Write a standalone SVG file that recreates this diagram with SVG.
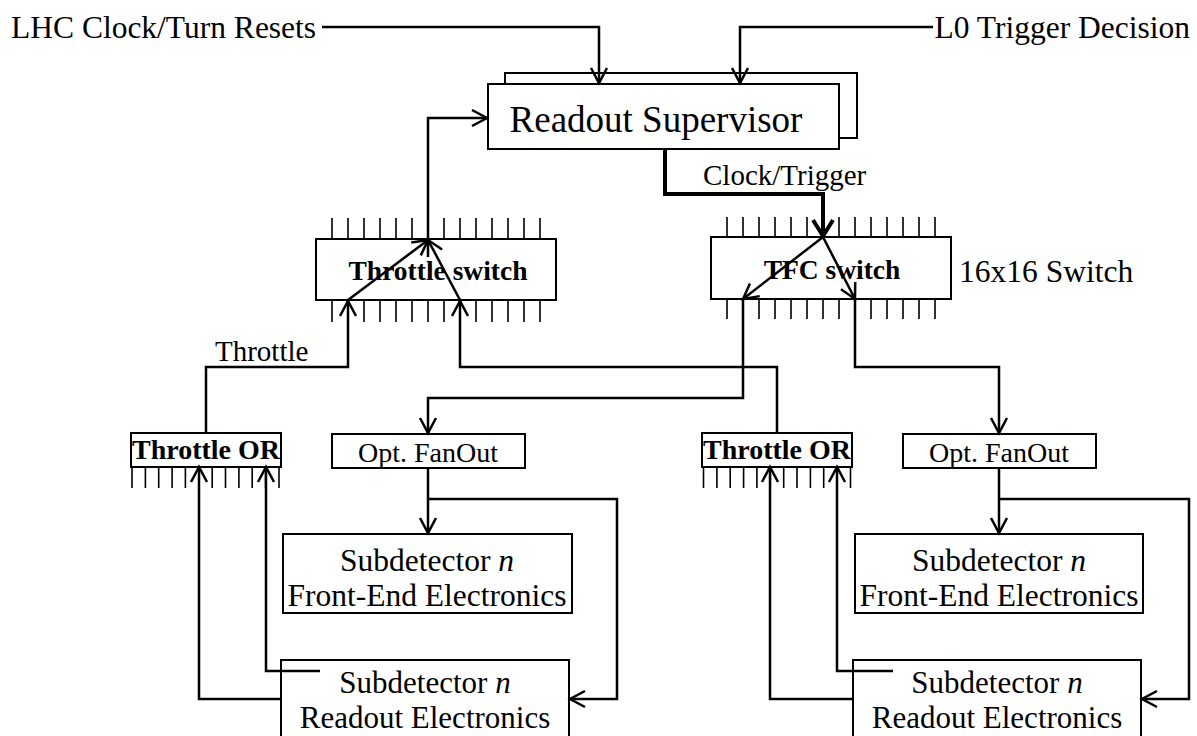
<svg xmlns="http://www.w3.org/2000/svg" width="1197" height="736" viewBox="0 0 1197 736">
<style>
text{font-family:"Liberation Serif","Times New Roman",serif;fill:#000}
.box{fill:#fff;stroke:#000;stroke-width:2}
.c{fill:none;stroke:#000;stroke-width:2.5;stroke-linejoin:miter}
.thick{fill:none;stroke:#000;stroke-width:4}
.tick{stroke:#000;stroke-width:1.6}
.b{font-weight:bold}
</style>
<defs>
<marker id="a" markerUnits="userSpaceOnUse" markerWidth="30" markerHeight="30" refX="0" refY="0" viewBox="-20 -15 30 30" orient="auto" overflow="visible">
<path d="M-15,-8 L0,0 L-15,8" fill="none" stroke="#000" stroke-width="2.5"/>
</marker>
<marker id="at" markerUnits="userSpaceOnUse" markerWidth="30" markerHeight="30" refX="0" refY="0" viewBox="-20 -15 30 30" orient="auto" overflow="visible">
<path d="M-16,-10 L0,0 L-16,10" fill="none" stroke="#000" stroke-width="4"/>
</marker>
</defs>

<g id="labels">
<text x="11" y="38" font-size="31.5">LHC Clock/Turn Resets</text>
<text x="1190" y="38" font-size="31.5" text-anchor="end">L0 Trigger Decision</text>
<text x="703" y="185" font-size="29">Clock/Trigger</text>
<text x="215" y="361" font-size="29">Throttle</text>
<text x="959" y="282" font-size="31.5">16x16 Switch</text>
</g>

<g id="readout-supervisor">
<rect class="box" x="505" y="73" width="352" height="65"/>
<rect class="box" x="488" y="84" width="351" height="65"/>
<text x="656" y="132" font-size="37" text-anchor="middle">Readout Supervisor</text>
</g>

<g id="throttle-switch">
<g class="tick">
<path d="M332,218V239M348,218V239M364,218V239M380,218V239M396,218V239M412,218V239M428,218V239M444,218V239M460,218V239M476,218V239M492,218V239M508,218V239M524,218V239M540,218V239"/>
<path d="M332,300V322M348,300V322M364,300V322M380,300V322M396,300V322M412,300V322M428,300V322M444,300V322M460,300V322M476,300V322M492,300V322M508,300V322M524,300V322M540,300V322"/>
</g>
<rect class="box" x="316" y="239" width="240" height="61"/>
<text class="b" x="438" y="280" font-size="27.5" text-anchor="middle">Throttle switch</text>
</g>

<g id="tfc-switch">
<g class="tick">
<path d="M727,217V237M743,217V237M759,217V237M775,217V237M791,217V237M807,217V237M823,217V237M839,217V237M855,217V237M871,217V237M887,217V237M903,217V237M919,217V237M935,217V237"/>
<path d="M727,299V319M743,299V319M759,299V319M775,299V319M791,299V319M807,299V319M823,299V319M839,299V319M855,299V319M871,299V319M887,299V319M903,299V319M919,299V319M935,299V319"/>
</g>
<rect class="box" x="711" y="237" width="240" height="62"/>
<text class="b" x="832" y="279" font-size="27.5" text-anchor="middle">TFC switch</text>
</g>

<g id="throttle-or-left">
<path class="tick" d="M132,467V488M145.4,467V488M158.7,467V488M172.1,467V488M185.4,467V488M198.8,467V488M212.2,467V488M225.5,467V488M238.9,467V488M252.2,467V488M265.6,467V488M279,467V488"/>
<rect class="box" x="131" y="433" width="150" height="34"/>
<text class="b" x="206" y="459" font-size="28" text-anchor="middle">Throttle OR</text>
</g>

<g id="throttle-or-right">
<path class="tick" d="M703.5,467V488M716.9,467V488M730.2,467V488M743.6,467V488M756.9,467V488M770.3,467V488M783.7,467V488M797,467V488M810.4,467V488M823.7,467V488M837.1,467V488M850.5,467V488"/>
<rect class="box" x="702" y="433" width="150" height="34"/>
<text class="b" x="777" y="459" font-size="28" text-anchor="middle">Throttle OR</text>
</g>

<g id="fanout-left">
<rect class="box" x="332" y="434" width="193" height="34"/>
<text x="428" y="462" font-size="28" text-anchor="middle">Opt. FanOut</text>
</g>
<g id="fanout-right">
<rect class="box" x="903" y="434" width="193" height="34"/>
<text x="999" y="462" font-size="28" text-anchor="middle">Opt. FanOut</text>
</g>

<g id="frontend-left">
<rect class="box" x="283" y="534" width="289" height="79"/>
<text x="427" y="571" font-size="31.5" text-anchor="middle">Subdetector <tspan font-style="italic">n</tspan></text>
<text x="427" y="606" font-size="31.5" text-anchor="middle">Front-End Electronics</text>
</g>
<g id="frontend-right">
<rect class="box" x="855" y="534" width="288" height="79"/>
<text x="999" y="571" font-size="31.5" text-anchor="middle">Subdetector <tspan font-style="italic">n</tspan></text>
<text x="999" y="606" font-size="31.5" text-anchor="middle">Front-End Electronics</text>
</g>

<g id="readout-left">
<rect class="box" x="281" y="660" width="288" height="90"/>
<text x="425" y="693" font-size="31" text-anchor="middle">Subdetector <tspan font-style="italic">n</tspan></text>
<text x="425" y="728" font-size="31" text-anchor="middle">Readout Electronics</text>
</g>
<g id="readout-right">
<rect class="box" x="853" y="660" width="288" height="90"/>
<text x="997" y="693" font-size="31" text-anchor="middle">Subdetector <tspan font-style="italic">n</tspan></text>
<text x="997" y="728" font-size="31" text-anchor="middle">Readout Electronics</text>
</g>

<g id="connectors">
<path class="c" d="M322,27H599V83" marker-end="url(#a)"/>
<path class="c" d="M933,27H740V83" marker-end="url(#a)"/>
<path class="c" d="M428,239V118H487" marker-end="url(#a)"/>
<path class="thick" d="M665,149V194H823V236" marker-end="url(#at)"/>
<path class="c" d="M348,300L428,240" marker-end="url(#a)"/>
<path class="c" d="M460,300L428,240" marker-end="url(#a)"/>
<path class="c" d="M823,237L743,299" marker-end="url(#a)"/>
<path class="c" d="M823,237L855,299" marker-end="url(#a)"/>
<path class="c" d="M206,433V367H348V301" marker-end="url(#a)"/>
<path class="c" d="M777,433V367H460V301" marker-end="url(#a)"/>
<path class="c" d="M743,299V398H428V433" marker-end="url(#a)"/>
<path class="c" d="M855,299V367H999V433" marker-end="url(#a)"/>
<path class="c" d="M428,468V533" marker-end="url(#a)"/>
<path class="c" d="M428,499H617V699H570" marker-end="url(#a)"/>
<path class="c" d="M999,468V533" marker-end="url(#a)"/>
<path class="c" d="M999,499H1189V699H1142" marker-end="url(#a)"/>
<path class="c" d="M281,699H199V467" marker-end="url(#a)"/>
<path class="c" d="M320,671H266V467" marker-end="url(#a)"/>
<path class="c" d="M853,699H770V467" marker-end="url(#a)"/>
<path class="c" d="M893,671H837V467" marker-end="url(#a)"/>
</g>
</svg>
